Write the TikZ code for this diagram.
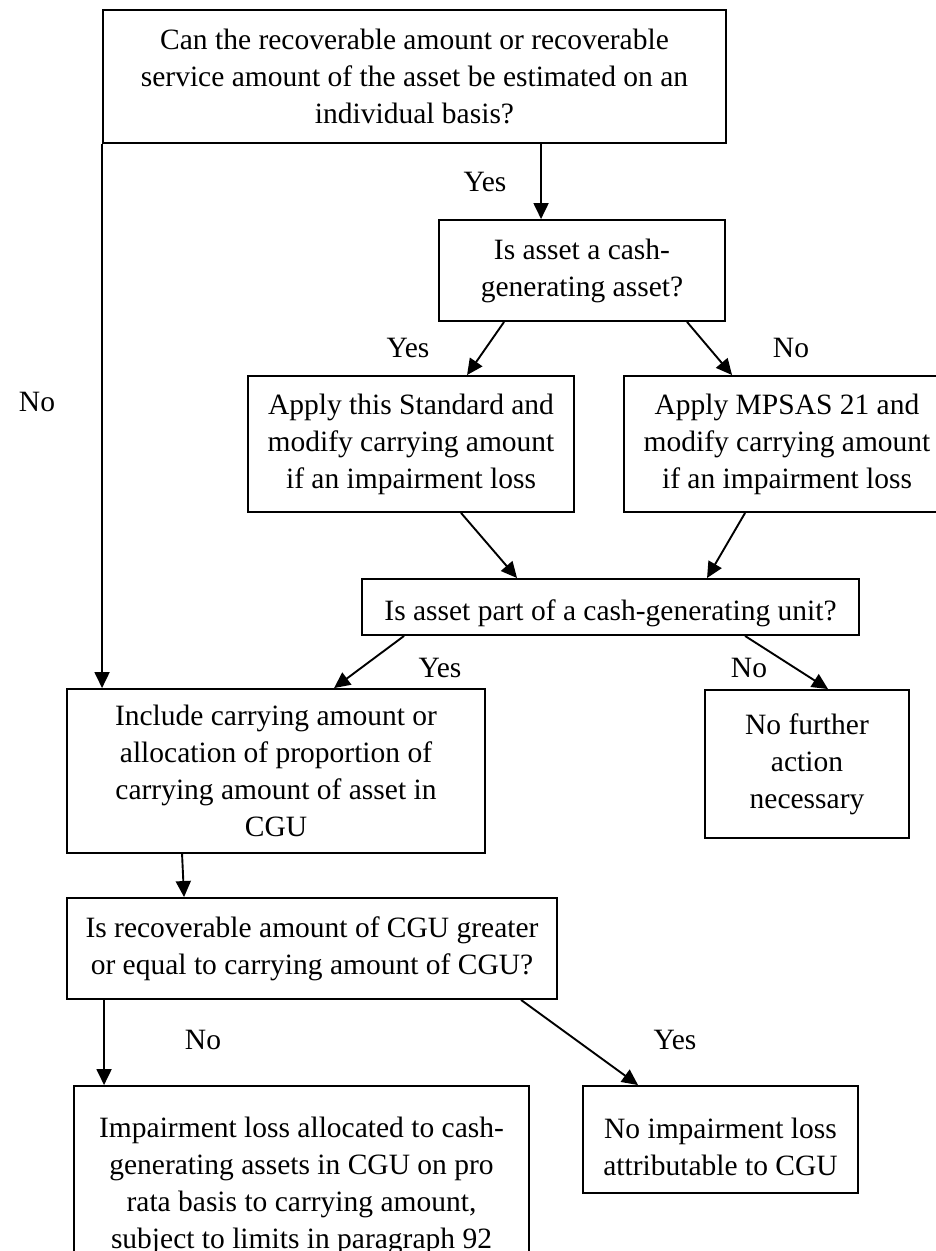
\documentclass[tikz,border=0pt]{standalone}
\usepackage{fontspec}
\setmainfont{Liberation Serif}
\usetikzlibrary{arrows.meta}
\tikzset{
  bx/.style={draw, line width=1.9pt, inner sep=0pt, align=center},
  arr/.style={line width=1.9pt, -{Triangle[length=16pt,width=15pt]}},
  lbl/.style={inner sep=0pt}
}
\begin{document}
\begin{tikzpicture}[x=1pt,y=-1pt,font=\fontsize{29.5}{37}\selectfont]
\useasboundingbox (0,0) rectangle (936,1251);
\node[bx, minimum width=623pt, minimum height=133pt] (b1) at (414.5,76.5)
  {Can the recoverable amount or recoverable\\service amount of the asset be estimated on an\\individual basis?};
\node[bx, minimum width=286pt, minimum height=101pt] (b2) at (582,270.5)
  {Is asset a cash-\\generating asset?};
\node[bx, minimum width=326pt, minimum height=136pt] (b3) at (411,444)
  {Apply this Standard and\\modify carrying amount\\if an impairment loss};
\node[bx, minimum width=326pt, minimum height=136pt] (b4) at (787,444)
  {Apply MPSAS 21 and\\modify carrying amount\\if an impairment loss};
\node[bx, minimum width=497pt, minimum height=56pt, text height=27.5pt, text depth=0pt] (b5) at (610.5,607)
  {Is asset part of a cash-generating unit?};
\node[bx, minimum width=418pt, minimum height=164pt] (b6) at (276,771)
  {Include carrying amount or\\allocation of proportion of\\carrying amount of asset in\\CGU};
\node[bx, minimum width=204pt, minimum height=148pt] (b7) at (807,764)
  {No further\\action\\necessary};
\node[bx, minimum width=490pt, minimum height=101pt] (b8) at (312,948.5)
  {Is recoverable amount of CGU greater\\or equal to carrying amount of CGU?};
\node[bx, minimum width=455pt, minimum height=200pt] (b9) at (301.5,1186)
  {Impairment loss allocated to cash-\\generating assets in CGU on pro\\rata basis to carrying amount,\\subject to limits in paragraph 92};
\node[bx, minimum width=275pt, minimum height=107pt] (b10) at (720.5,1139.5) {};
\node[align=center, inner sep=0pt] (t10) at ([yshift=-7pt]b10.center)
  {No impairment loss\\attributable to CGU};

\node[lbl] (y1) at (485,182) {Yes};
\node[lbl] (y2) at (408,348) {Yes};
\node[lbl] (n2) at (791,348) {No};
\node[lbl] (n0) at (37,402) {No};
\node[lbl] (y3) at (440,668) {Yes};
\node[lbl] (n3) at (749,668) {No};
\node[lbl] (n4) at (203,1040) {No};
\node[lbl] (y4) at (675,1040) {Yes};

\draw[arr] ([xshift=439pt]b1.south west) -- ([xshift=103pt]b2.north west);
\draw[arr] ([xshift=66pt]b2.south west) -- ([xshift=220pt]b3.north west);
\draw[arr] ([xshift=249pt]b2.south west) -- ([xshift=109pt]b4.north west);
\draw[arr] ([xshift=214pt]b3.south west) -- ([xshift=156pt]b5.north west);
\draw[arr] ([xshift=122pt]b4.south west) -- ([xshift=346pt]b5.north west);
\draw[arr] ([xshift=43pt]b5.south west) -- ([xshift=268pt]b6.north west);
\draw[arr] ([xshift=384pt]b5.south west) -- ([xshift=124pt]b7.north west);
\draw[arr] (b1.south west) -- ([xshift=36pt]b6.north west);
\draw[arr] ([xshift=116pt]b6.south west) -- ([xshift=118pt]b8.north west);
\draw[arr] ([xshift=38pt]b8.south west) -- ([xshift=31pt]b9.north west);
\draw[arr] ([xshift=455pt]b8.south west) -- ([xshift=56pt]b10.north west);
\end{tikzpicture}
\end{document}
